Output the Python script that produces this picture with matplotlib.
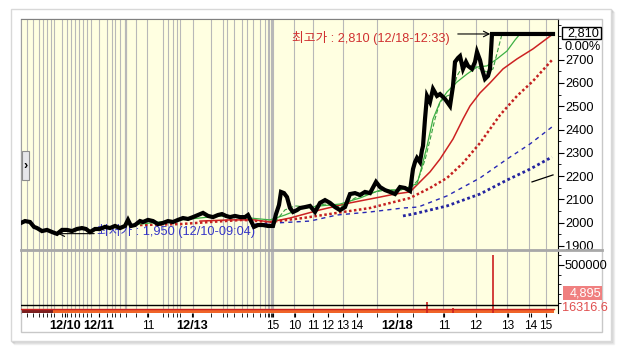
import matplotlib
matplotlib.use("Agg")
import matplotlib.pyplot as plt
from matplotlib.patches import Rectangle
from matplotlib.lines import Line2D
import numpy as np

plt.rcParams['font.family'] = ['Liberation Sans', 'Noto Sans CJK KR', 'DejaVu Sans']

# ---------------- data (x = tick-bar index) ----------------
price_x = [0,4,9,13,16,21,26,31,36,41,46,51,56,61,65,69,74,79,84,89,94,99,104,107,110,114,119,122,127,132,137,142,147,152,157,162,167,172,177,182,187,192,197,201,205,209,214,219,224,227,230,233,237,242,247,252,255,258,260,263,266,269,272,276,279,284,289,294,299,304,309,314,319,324,329,334,339,344,349,355,359,364,369,374,379,384,389,392,394,396,399,401,402,404,406,409,412,416,419,424,429,432,434,437,439,442,445,447,451,454,456,459,461,464,467,469,471,532]
price_v = [1999,2007,2003,1982,1977,1964,1969,1960,1952,1969,1969,1964,1973,1977,1973,1960,1973,1973,1982,1977,1986,1977,1986,2012,1986,1990,2007,2003,2012,2007,1994,1999,2007,2003,2012,2020,2016,2024,2033,2042,2029,2024,2033,2037,2029,2024,2029,2024,2024,2033,2007,1982,1990,1990,1986,1986,2037,2076,2132,2127,2110,2063,2046,2054,2063,2067,2072,2046,2085,2097,2085,2067,2054,2067,2123,2127,2119,2132,2127,2175,2153,2140,2132,2123,2153,2149,2136,2230,2260,2278,2260,2312,2329,2445,2544,2518,2574,2544,2552,2531,2501,2587,2690,2707,2715,2660,2690,2673,2660,2690,2733,2698,2660,2617,2630,2660,2810,2810]

ma_fast_x = [254,264,274,289,304,319,334,349,364,379,389,397,404,409,414,419,426,431,436,442,452,459,466,472,481]
ma_fast_v = [2003,2055,2072,2067,2080,2067,2106,2127,2140,2140,2145,2183,2269,2355,2445,2518,2544,2552,2630,2673,2673,2660,2647,2660,2810]

ma_green_x = [109,139,169,199,229,249,264,279,299,319,339,359,374,384,392,396,401,406,412,419,426,436,446,456,466,476,486,494,499]
ma_green_v = [1990,2003,2016,2029,2020,2012,2033,2059,2072,2080,2106,2140,2140,2145,2162,2166,2243,2329,2445,2518,2561,2604,2638,2668,2673,2703,2737,2784,2810]

ma_red_x = [179,209,234,249,269,299,329,359,374,389,399,409,419,432,442,449,459,469,482,496,512,532]
ma_red_v = [2007,2012,2012,2003,2020,2055,2085,2110,2123,2132,2175,2218,2273,2359,2445,2501,2557,2600,2660,2703,2746,2810]

ma_reddot_x = [119,159,189,222,249,282,316,349,389,409,426,442,459,479,496,512,532]
ma_reddot_v = [1990,1994,2003,2012,2003,2020,2042,2063,2106,2149,2192,2256,2342,2462,2544,2608,2703]

ma_bluedash_x = [234,256,289,316,349,382,397,426,459,486,509,531]
ma_bluedash_v = [1994,1999,2007,2033,2046,2063,2067,2115,2192,2273,2338,2411]

ma_bluedot_x = [382,392,426,459,486,509,531]
ma_bluedot_v = [2029,2037,2072,2123,2183,2230,2282]

ma_black_x = [511,532]
ma_black_v = [2175,2205]

high_val, high_idx = 2810, 472
low_val, low_idx = 1950, 34
high_label = "최고가 : 2,810 (12/18-12:33)"
low_label = "최저가 : 1,950 (12/10-09:04)"
last_price_label = "2,810"
change_label = "0.00%"
last_vol_label = "4,895"
vol_ma_label = "16316.6"

vol_x = [0, 20, 32, 60, 90, 120, 150, 180, 210, 240, 255, 280, 310, 340, 370, 400, 430, 460, 490, 520, 533]
vol_v = [42000, 40000, 41000, 38000, 39000, 37000, 40000, 38000, 39000, 37000, 41000, 43000, 40000, 39000, 42000, 44000, 43000, 41000, 40000, 37000, 36000]
spike_x = [406, 432, 472]
spike_v = [115000, 52000, 604000]
vol_ma_x = [0, 533]
vol_ma_v = [41500, 41500]
vol_ref = 83000

xtick_pos = [44,78,127,171,252,274,292,307,322,336,376,423,455,487,510,525]
xtick_labels = ['12/10','12/11','11','12/13','15','10','11','12','13','14','12/18','11','12','13','14','15']
grid_pos = [6,12,18,22,26,30,33,41,46,50,54,58,62,66,70,78,86,91,94,99,105,115,126,142,147,152,156,159,172,190,202,206,213,221,226,232,239,244,247,248,250,251,252,273,292,322,356,392,422,455,486,508,525]

# ---------------- figure ----------------
W, H = 622, 352
fig = plt.figure(figsize=(W/100, H/100), dpi=100)
fig.patch.set_facecolor('white')

def fx(px): return px / W
def fy(py): return 1 - py / H

# outer frame + shadow (behind axes)
for i, a in enumerate([0.35, 0.22, 0.12]):
    fig.add_artist(Rectangle((fx(12 + i), fy(342 + i)), fx(600), fy(0) - fy(332),
                             transform=fig.transFigure, fc='none', ec=(0.6, 0.6, 0.6, a), lw=1,
                             zorder=-5))
fig.add_artist(Rectangle((fx(11), fy(341)), fx(600), fy(0) - fy(332),
                         transform=fig.transFigure, fc='white', ec='#d8d8d8', lw=1, zorder=-4))
fig.add_artist(Rectangle((fx(21), fy(332)), fx(581), fy(19) - fy(332),
                         transform=fig.transFigure, fc='white', ec='#c8c8c8', lw=1, zorder=-3))

bg = '#ffffe1'
L, R = 21, 558
ax = fig.add_axes([fx(L), fy(250), fx(R) - fx(L), fy(19) - fy(250)])
axv = fig.add_axes([fx(L), fy(313), fx(R) - fx(L), fy(250) - fy(313)], sharex=ax)

for a in (ax, axv):
    a.set_facecolor(bg)
    a.set_xlim(0, 537)
    for g in grid_pos:
        a.axvline(g, color='#b8b8b8', lw=1.6 if g == 105 else 0.8, zorder=1)
    a.spines['left'].set_color('#a0a0a0')
    a.spines['top'].set_color('#808080')
    a.spines['bottom'].set_visible(False)
    a.spines['right'].set_color('black')
    a.yaxis.tick_right()

ax.set_ylim(1882.8, 2874.3)
ax.set_yticks(range(1900, 2800, 100))
ax.set_yticks(range(1950, 2900, 50), minor=True)
ax.tick_params(axis='y', which='major', direction='out', length=4, pad=1, labelsize=9.2, colors='black')
ax.tick_params(axis='y', which='minor', direction='out', length=2)
ax.tick_params(axis='x', which='both', bottom=False, labelbottom=False)

# moving averages
ax.plot(ma_reddot_x, ma_reddot_v, color='#c42020', lw=1.8, ls=(0, (1, 1)), zorder=3)
ax.plot(ma_bluedash_x, ma_bluedash_v, color='#2828b4', lw=1.0, ls=(0, (3, 3)), zorder=3)
ax.plot(ma_bluedot_x, ma_bluedot_v, color='#2424a0', lw=2.0, ls=(0, (1, 1)), zorder=3)
ax.plot(ma_red_x, ma_red_v, color='#cc2222', lw=1.1, zorder=3)
ax.plot(ma_green_x, ma_green_v, color='#3cb043', lw=0.9, zorder=3)
ax.plot(ma_fast_x, ma_fast_v, color='#3aa040', lw=0.8, ls=(0, (4, 2)), zorder=3)
ax.plot(ma_black_x, ma_black_v, color='black', lw=0.9, zorder=3)

# labels of high / low
ax.text(low_idx + 42, low_val + 14, low_label, color='#3434c8', fontsize=9.2,
        ha='left', va='center', zorder=2)
ax.annotate('', xy=(low_idx, low_val + 3), xytext=(low_idx + 42, low_val + 3),
            arrowprops=dict(arrowstyle='->', color='black', lw=0.8), zorder=2)
ax.text(high_idx - 43, high_val - 17, high_label, color='#d03030', fontsize=9.2,
        ha='right', va='center', zorder=2)
ax.annotate('', xy=(high_idx, high_val), xytext=(high_idx - 38, high_val),
            arrowprops=dict(arrowstyle='->', color='black', lw=0.8), zorder=4)

# price
ax.plot(price_x, price_v, color='black', lw=3.0, solid_joinstyle='miter', zorder=5)

# volume panel
axv.set_ylim(0, 656000)
axv.set_yticks([500000])
axv.set_yticklabels(['500000'])
axv.set_yticks(range(100000, 700000, 100000), minor=True)
axv.tick_params(axis='y', which='major', direction='out', length=4, pad=1, labelsize=9.2)
axv.tick_params(axis='y', which='minor', direction='out', length=2)
axv.fill_between(vol_x, vol_v, step='post', color='#f06428', lw=0, zorder=2)
axv.fill_between(vol_x[:3], vol_v[:3], step='post', color='#7a1f1f', lw=0, zorder=2.1)
axv.vlines(spike_x, 0, spike_v, color='#cc1f1f', lw=1.2, zorder=3)
axv.plot(vol_ma_x, vol_ma_v, color='#c81e1e', lw=1.0, zorder=3)
axv.axhline(vol_ref, color='black', lw=1.0, zorder=3)

axv.set_xticks(xtick_pos)
axv.set_xticklabels(xtick_labels)
axv.set_xticks(grid_pos, minor=True)
axv.tick_params(axis='x', which='major', direction='out', length=3, pad=2, labelsize=8.6)
axv.tick_params(axis='x', which='minor', direction='out', length=3)
for t in axv.get_xticklabels():
    if '/' in t.get_text():
        t.set_fontweight('bold')
        t.set_fontsize(9.2)

# separator between panels
fig.add_artist(Line2D([fx(21), fx(602)], [fy(250), fy(250)], transform=fig.transFigure,
                      color='#a8a8a8', lw=2, zorder=10))

# right-side boxes
fig.add_artist(Rectangle((fx(562), fy(39)), fx(39), fy(27) - fy(39), transform=fig.transFigure,
                         fc='white', ec='black', lw=1, zorder=11))
fig.text(fx(599), fy(33), last_price_label, ha='right', va='center', fontsize=9.2, zorder=12)
fig.text(fx(601), fy(47), change_label, ha='right', va='center', fontsize=9.2, zorder=12)
fig.add_artist(Rectangle((fx(563), fy(300)), fx(39), fy(286) - fy(300), transform=fig.transFigure,
                         fc='#f08080', ec='none', zorder=11))
fig.text(fx(601), fy(293), last_vol_label, ha='right', va='center', fontsize=9.2, color='white', zorder=12)
fig.text(fx(562), fy(308), vol_ma_label, ha='left', va='center', fontsize=9.2, color='#e05050', zorder=12)

# small side button
fig.add_artist(Rectangle((fx(22), fy(180)), fx(7), fy(151) - fy(180), transform=fig.transFigure,
                         fc='#e6e6ea', ec='#8c8c8c', lw=0.8, zorder=11))
fig.text(fx(25.5), fy(166), '›', ha='center', va='center', fontsize=9, fontweight='bold', zorder=12)

fig.savefig('out.png', dpi=100, facecolor='white')
